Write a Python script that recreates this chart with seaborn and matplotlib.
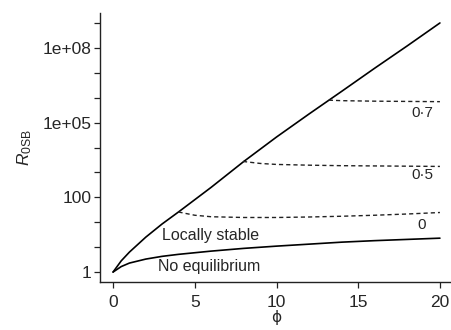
import matplotlib
matplotlib.use("Agg")
import matplotlib.pyplot as plt
import seaborn as sns
import pandas as pd
import numpy as np

# boundary curves (log10 of R0SB, in tick steps)
phi_grid = [0, 0.5, 1, 2, 3, 4, 6, 8, 10, 12, 14, 16, 18, 20]
log_upper = [0, 0.45, 0.8, 1.4, 1.93, 2.41, 3.4, 4.44, 5.42, 6.35, 7.26, 8.18, 9.08, 10.0]
log_lower = [0, 0.22, 0.36, 0.52, 0.63, 0.71, 0.84, 0.95, 1.04, 1.12, 1.2, 1.26, 1.31, 1.36]

# dashed curves, one per label
phi_d0 = [4, 5, 6, 8, 10, 12, 14, 16, 18, 20]
log_d0 = [2.41, 2.28, 2.22, 2.19, 2.19, 2.21, 2.24, 2.28, 2.33, 2.39]
phi_d05 = [7.95, 9, 10, 12, 14, 16, 18, 20]
log_d05 = [4.44, 4.36, 4.32, 4.29, 4.27, 4.26, 4.25, 4.24]
phi_d07 = [13.2, 14, 16, 18, 20]
log_d07 = [6.9, 6.88, 6.86, 6.85, 6.84]

dashed_labels = ["0", "0·5", "0·7"]
label_pos = [(18.9, 1.9), (18.9, 3.88), (18.9, 6.4)]

ytick_labels = {0: "1", 3: "100", 6: "1e+05", 9: "1e+08"}
xticks = [0, 5, 10, 15, 20]

sns.set_style("ticks")
plt.rcParams["font.family"] = ["Liberation Sans", "DejaVu Sans"]
plt.rcParams["mathtext.fontset"] = "custom"
plt.rcParams["mathtext.rm"] = "Liberation Sans"
plt.rcParams["mathtext.it"] = "Liberation Sans:italic"

fig = plt.figure(figsize=(4.51, 3.30), dpi=100)
ax = fig.add_axes([100 / 451, 48 / 330, 353 / 451, 269 / 330])

solid = pd.DataFrame({"phi": phi_grid * 2,
                      "R": 10 ** np.array(log_upper + log_lower),
                      "curve": ["upper"] * len(phi_grid) + ["lower"] * len(phi_grid)})
sns.lineplot(data=solid, x="phi", y="R", units="curve", estimator=None,
             color="black", lw=1.2, ax=ax)

for xs, ys in [(phi_d0, log_d0), (phi_d05, log_d05), (phi_d07, log_d07)]:
    df = pd.DataFrame({"phi": xs, "R": 10 ** np.array(ys)})
    sns.lineplot(data=df, x="phi", y="R", color="#222222", lw=1.0,
                 dashes=False, linestyle=(0, (3, 2.2)), ax=ax)

for lab, (px, py) in zip(dashed_labels, label_pos):
    ax.text(px, 10 ** py, lab, fontsize=11, ha="center", va="center")

ax.text(3.0, 10 ** 1.45, "Locally stable", fontsize=11.5, ha="left", va="center")
ax.text(2.75, 10 ** 0.24, "No equilibrium", fontsize=11.5, ha="left", va="center")

ax.set_yscale("log")
ax.set_xlim(-0.8, 20.8)
ax.set_ylim(10 ** -0.4, 10 ** 10.4)
ax.set_yticks([10.0 ** k for k in range(11)])
ax.set_yticklabels([ytick_labels.get(k, "") for k in range(11)])
ax.yaxis.set_minor_locator(matplotlib.ticker.NullLocator())
ax.set_xticks(xticks)
ax.set_xticklabels([str(v) for v in xticks])
ax.tick_params(axis="both", labelsize=12.5, length=4.5, width=0.9, color="#222222")
ax.tick_params(axis="y", pad=1.5)
ax.tick_params(axis="x", pad=5)

ax.set_xlabel("ϕ", fontsize=11, family=["DejaVu Sans"], labelpad=0)
ax.set_ylabel(r"$R_{\mathrm{0SB}}$", fontsize=12.5, labelpad=6)

sns.despine(ax=ax)
for s in ["left", "bottom"]:
    ax.spines[s].set_linewidth(1.0)
    ax.spines[s].set_color("#222222")

fig.savefig("out.png", dpi=100)
